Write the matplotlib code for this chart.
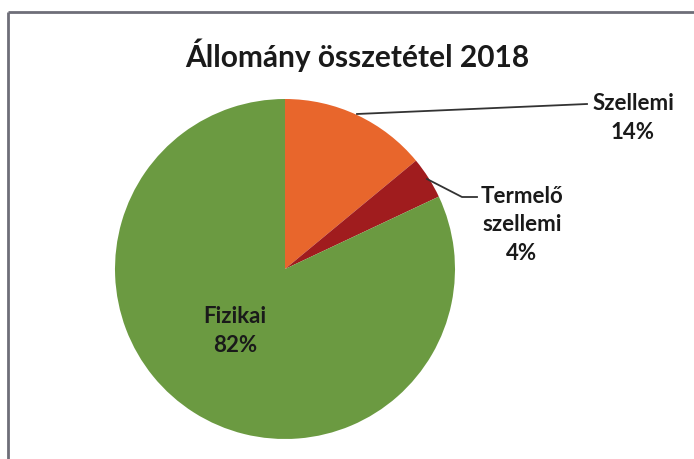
import matplotlib.pyplot as plt

labels = ["Szellemi", "Termelő\nszellemi", "Fizikai"]
shares = [14, 4, 82]
colors = ["#E8662C", "#A01C1E", "#6B9A41"]

W, H = 694, 460
fig = plt.figure(figsize=(W / 100, H / 100), dpi=100)

# pie axes (y up), drawn first
pax = fig.add_axes([0, 0, 1, 1])
pax.pie(shares, colors=colors, startangle=90, counterclock=False,
        center=(285, H - 270), radius=170, frame=True,
        wedgeprops=dict(linewidth=0))
pax.set_xlim(0, W)
pax.set_ylim(0, H)
pax.set_aspect("auto")
pax.axis("off")

# overlay axes in pixel coords (y down) for text and lines
ax = fig.add_axes([0, 0, 1, 1])
ax.set_xlim(0, W)
ax.set_ylim(H, 0)
ax.patch.set_alpha(0)
ax.axis("off")

font = "Lato"
ax.text(357, 55, "Állomány összetétel 2018", ha="center", va="center",
        fontsize=21.5, fontweight="bold", family=font, color="#1a1a1a")

txt = dict(ha="center", va="center", fontsize=16, fontweight="bold",
           family=font, color="#1a1a1a", linespacing=1.45)
ax.text(633, 118, f"{labels[0]}\n{shares[0]}%", **txt)
ax.text(522, 225, f"{labels[1]}\n{shares[1]}%", **txt)
ax.text(235, 331, f"{labels[2]}\n{shares[2]}%", **txt)

# leader lines
ax.plot([357, 587], [115, 105], color="#333333", lw=1.3)
ax.plot([427, 462, 477], [180, 198, 198], color="#333333", lw=1.3)

# chart frame (left and top edges visible)
ax.plot([8, 8], [H, 13], color="#6E6E78", lw=2, solid_capstyle="butt")
ax.plot([8, W], [13, 13], color="#6E6E78", lw=2, solid_capstyle="butt")

fig.savefig("out.png", dpi=100)
